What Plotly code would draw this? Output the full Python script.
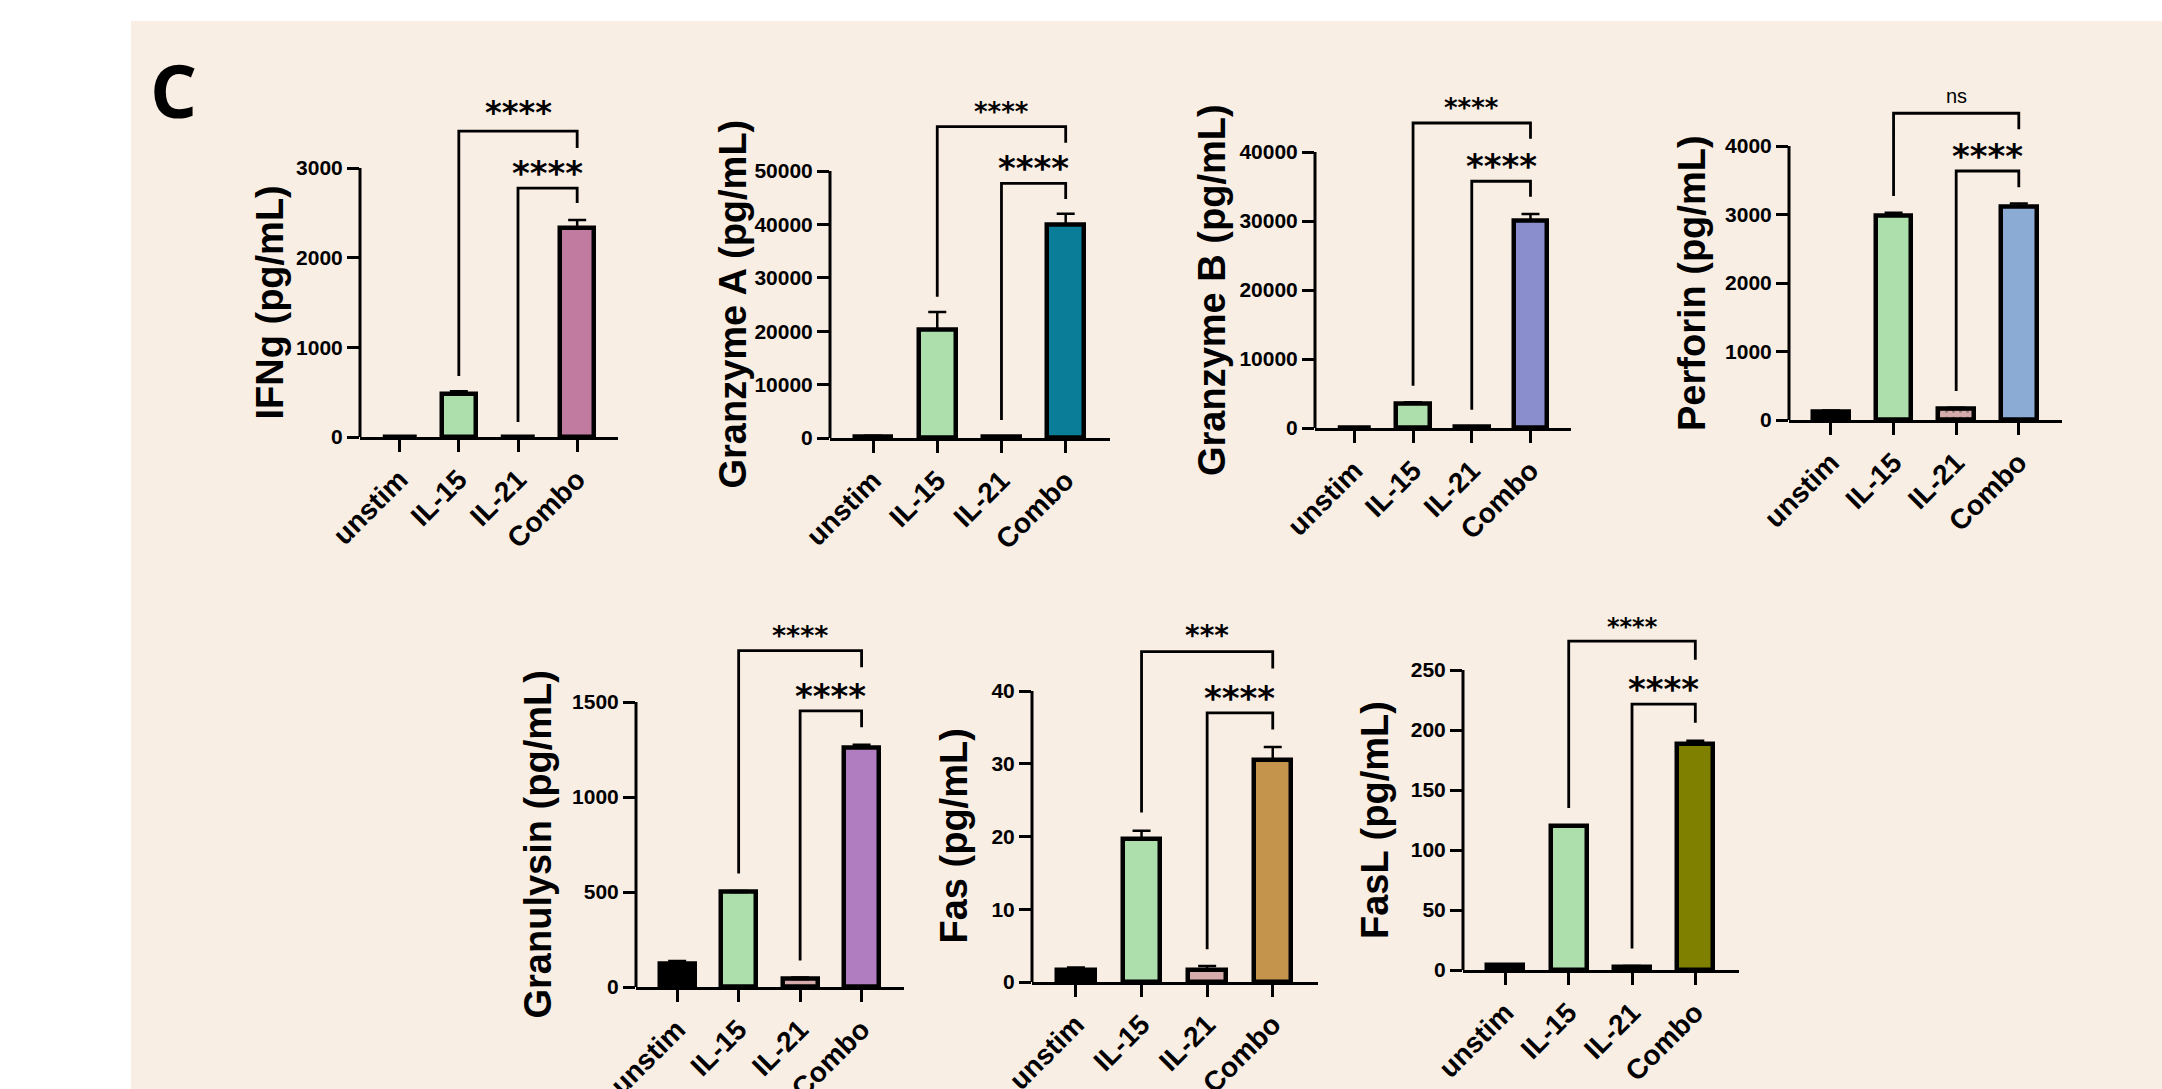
import plotly.graph_objects as go

W, H = 2162, 1089

categories = ["unstim", "IL-15", "IL-21", "Combo"]

titles = ["IFNg (pg/mL)", "Granzyme A (pg/mL)", "Granzyme B (pg/mL)", "Perforin (pg/mL)",
          "Granulysin (pg/mL)", "Fas (pg/mL)", "FasL (pg/mL)"]

ifng_vals = [0, 480, 0, 2330]
ifng_err = [None, 30, None, 90]
gzma_vals = [300, 20300, 200, 40000]
gzma_err = [100, 3300, 50, 2000]
gzmb_vals = [0, 3500, 150, 30100]
gzmb_err = [None, 250, 50, 900]
perf_vals = [120, 2980, 160, 3115]
perf_err = [20, 45, 20, 45]
gnly_vals = [125, 500, 42, 1260]
gnly_err = [12, 5, 8, 15]
fas_vals = [1.7, 19.7, 1.7, 30.5]
fas_err = [0.3, 1.1, 0.5, 1.8]
fasl_vals = [4.2, 120, 2.8, 188]
fasl_err = [0.5, None, 0.5, 3]

values = [ifng_vals, gzma_vals, gzmb_vals, perf_vals, gnly_vals, fas_vals, fasl_vals]
errors = [ifng_err, gzma_err, gzmb_err, perf_err, gnly_err, fas_err, fasl_err]

yticks = [
    [0, 1000, 2000, 3000],
    [0, 10000, 20000, 30000, 40000, 50000],
    [0, 10000, 20000, 30000, 40000],
    [0, 1000, 2000, 3000, 4000],
    [0, 500, 1000, 1500],
    [0, 10, 20, 30, 40],
    [0, 50, 100, 150, 200, 250],
]

# significance brackets: [level, left-leg bottom, right-leg bottom]
top_brackets = [
    [3412, 680, 3222],
    [58300, 26470, 55300],
    [44200, 6120, 41930],
    [4478, 3270, 4244],
    [1770, 597, 1683],
    [45.4, 23.3, 43.1],
    [274, 135, 258.5],
]
low_brackets = [
    [2776, 167, 2609],
    [47700, 3370, 44760],
    [35760, 2650, 33500],
    [3635, 423, 3397],
    [1453, 140, 1367],
    [37.0, 4.5, 34.7],
    [221.6, 18, 206],
]
top_labels = ["****", "****", "****", "ns", "****", "***", "****"]
low_labels = ["****"] * 7

# ---- styles / layout ----
combo_colors = ["#C27BA0", "#0A7E98", "#8A8ECC", "#8BAAD4", "#AF7DC0", "#C4944D", "#808000"]
base_colors = ["#000000", "#ACDFAC", "#D6ABAB"]
patterns = [["", "", "", ""]] * 3 + [["", "", ".", ""]] + [["", "", "", ""]] * 3

# pixel geometry: x-left, x-right, y of zero, y of top tick
geom = [
    (360, 618, 437, 168),
    (830, 1110, 438, 171),
    (1315, 1571, 428, 152),
    (1789, 2062, 420, 146),
    (636, 904, 987, 702),
    (1032, 1318, 982, 691),
    (1463, 1739, 970, 670),
]
title_offsets = [91, 98, 103, 97, 99, 79, 88]
top_label_sizes = [32, 26, 26, 20, 27, 28, 24]
XR = [-0.67, 3.69]
EXP = 1.45

FONT = "Arial, Liberation Sans, sans-serif"
STAR_FONT = "DejaVu Sans, sans-serif"

fig = go.Figure()
layout = dict(
    width=W, height=H,
    margin=dict(l=0, r=0, t=0, b=0, autoexpand=False),
    paper_bgcolor="white",
    plot_bgcolor="rgba(0,0,0,0)",
    showlegend=False,
    bargap=0,
)
shapes = [dict(type="rect", xref="paper", yref="paper", x0=131 / W, x1=1, y0=0, y1=1 - 21 / H,
               fillcolor="#F9EEE4", line=dict(width=0), layer="below")]
annotations = [dict(text="<b>C</b>", xref="paper", yref="paper", x=173 / W, y=1 - 90 / H,
                    xanchor="center", yanchor="middle", showarrow=False,
                    font=dict(family="Open Sans, sans-serif", size=74, color="black"))]

for i in range(7):
    n = i + 1
    xa = "x" if n == 1 else f"x{n}"
    ya = "y" if n == 1 else f"y{n}"
    xl, xr, y0, yt = geom[i]
    toptick = yticks[i][-1]
    top_px = y0 - (y0 - yt) * EXP
    colors = base_colors + [combo_colors[i]]

    fig.add_trace(go.Bar(
        x=[0, 1, 2, 3], y=values[i], xaxis=xa, yaxis=ya, width=0.57,
        marker=dict(color=colors, line=dict(color="black", width=4.5),
                    pattern=dict(shape=patterns[i], fgcolor="#5a4040", size=7, solidity=0.15)),
        error_y=dict(type="data", symmetric=False, array=errors[i], arrayminus=[0, 0, 0, 0],
                     color="black", thickness=2.5, width=9),
        hoverinfo="skip",
    ))
    for br, left in ((top_brackets[i], 1), (low_brackets[i], 2)):
        fig.add_trace(go.Scatter(
            x=[left, left, 3, 3], y=[br[1], br[0], br[0], br[2]], xaxis=xa, yaxis=ya,
            mode="lines", line=dict(color="black", width=2.8), hoverinfo="skip",
        ))

    kx = "xaxis" if n == 1 else f"xaxis{n}"
    ky = "yaxis" if n == 1 else f"yaxis{n}"
    layout[kx] = dict(
        domain=[xl / W, xr / W], anchor=ya, range=XR, tickvals=[0, 1, 2, 3], ticktext=categories,
        showline=True, linecolor="black", linewidth=3, ticks="outside", ticklen=12, tickwidth=3,
        tickcolor="black", tickangle=-45, showgrid=False, zeroline=False, fixedrange=True,
        automargin=False,
        tickfont=dict(family=FONT, size=28, color="black", weight="bold"),
    )
    layout[ky] = dict(
        domain=[1 - y0 / H, 1 - top_px / H], anchor=xa, range=[0, toptick * EXP],
        tickvals=yticks[i], ticktext=[str(v) for v in yticks[i]], showline=False,
        ticks="outside", ticklen=12, tickwidth=3, automargin=False,
        tickcolor="black", showgrid=False, zeroline=False, fixedrange=True,
        tickfont=dict(family=FONT, size=21, color="black", weight="bold"),
    )
    shapes.append(dict(type="line", xref=f"{xa} domain", yref=ya, x0=0, x1=0, y0=0, y1=toptick,
                       line=dict(color="black", width=3)))
    annotations.append(dict(
        text=f"<b>{titles[i]}</b>", xref=f"{xa} domain", yref=ya, x=0, xshift=-title_offsets[i],
        y=toptick / 2, textangle=-90, showarrow=False, xanchor="center", yanchor="middle",
        font=dict(family=FONT, size=38, color="black"),
    ))
    tl = top_labels[i]
    annotations.append(dict(
        text=tl if tl == "ns" else f"<b>{tl}</b>", xref=xa, yref=ya, x=2, y=top_brackets[i][0],
        yanchor="bottom", showarrow=False, yshift=4 if tl == "ns" else -2,
        font=dict(family=FONT if tl == "ns" else STAR_FONT, size=top_label_sizes[i], color="black"),
    ))
    annotations.append(dict(
        text=f"<b>{low_labels[i]}</b>", xref=xa, yref=ya, x=2.5, y=low_brackets[i][0],
        yanchor="bottom", showarrow=False, yshift=-7,
        font=dict(family=STAR_FONT, size=34, color="black"),
    ))

layout["shapes"] = shapes
layout["annotations"] = annotations
fig.update_layout(**layout)
fig.write_html("out.html", config={"displayModeBar": False},
               post_script="document.body.style.margin='0';document.body.style.overflow='hidden';")
